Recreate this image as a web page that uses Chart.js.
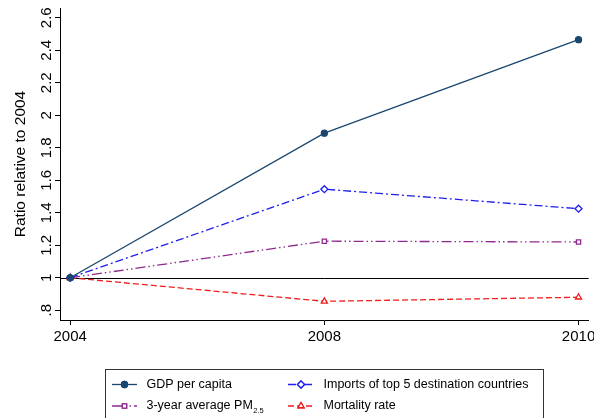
<!DOCTYPE html>
<html>
<head>
<meta charset="utf-8">
<script src="https://cdn.jsdelivr.net/npm/chart.js@4.4.1/dist/chart.umd.min.js"></script>
<style>
  html, body { margin: 0; padding: 0; background: #fff; }
  #wrap { width: 594px; height: 418px; position: relative; overflow: hidden; }
</style>
</head>
<body>
<div id="wrap"><canvas id="c" width="594" height="418"></canvas></div>
<script>
// Years on the horizontal axis (evenly spaced)
const years = ['2004', '2008', '2010'];

// Each series as a ratio to its 2004 level
const gdpPerCapita = [1, 1.89, 2.465];
const importsTop5 = [1, 1.545, 1.425];
const pm25Avg3yr = [1, 1.225, 1.22];
const mortalityRate = [1, 0.855, 0.88];

// Vertical axis ticks
const yTickValues = [0.8, 1, 1.2, 1.4, 1.6, 1.8, 2, 2.2, 2.4, 2.6];
const yTickLabels = ['.8', '1', '1.2', '1.4', '1.6', '1.8', '2', '2.2', '2.4', '2.6'];

const FONT = '"Liberation Sans", Arial, Helvetica, sans-serif';

const toPoints = arr => arr.map((v, i) => ({ x: i, y: v }));

const series = [
  { label: 'GDP per capita', data: gdpPerCapita, color: '#1a476f', dash: [],
    pointStyle: 'circle', radius: 3, filled: true },
  { label: 'Imports of top 5 destination countries', data: importsTop5, color: '#1f1fee', dash: [8, 3, 2, 3],
    pointStyle: 'rectRot', radius: 3.5, filled: false },
  { label: '3-year average PM', sub: '2.5', data: pm25Avg3yr, color: '#8e2a8e', dash: [10, 3, 1.5, 3, 1.5, 3],
    pointStyle: 'rect', radius: 3, filled: false },
  { label: 'Mortality rate', data: mortalityRate, color: '#f21d1d', dash: [6, 3],
    pointStyle: 'triangle', radius: 3.5, filled: false }
];

// Reference line at ratio = 1
const refLinePlugin = {
  id: 'refLine',
  beforeDatasetsDraw(chart) {
    const { ctx, chartArea, scales } = chart;
    const y = Math.round(scales.y.getPixelForValue(1)) + 0.5;
    ctx.save();
    ctx.strokeStyle = '#000';
    ctx.lineWidth = 1;
    ctx.beginPath();
    ctx.moveTo(chartArea.left, y);
    ctx.lineTo(chartArea.right, y);
    ctx.stroke();
    ctx.restore();
  }
};

// Rotated vertical-axis tick labels
const yLabelPlugin = {
  id: 'yLabels',
  afterDraw(chart) {
    const { ctx, scales } = chart;
    ctx.save();
    ctx.fillStyle = '#000';
    ctx.font = '15px ' + FONT;
    ctx.textAlign = 'center';
    ctx.textBaseline = 'alphabetic';
    yTickValues.forEach((v, i) => {
      const y = scales.y.getPixelForValue(v);
      ctx.save();
      ctx.translate(51, y);
      ctx.rotate(-Math.PI / 2);
      ctx.fillText(yTickLabels[i], 0, 0);
      ctx.restore();
    });
    ctx.restore();
  }
};

function drawMarker(ctx, s, x, y) {
  ctx.save();
  ctx.setLineDash([]);
  ctx.lineWidth = 1.3;
  ctx.strokeStyle = s.color;
  ctx.fillStyle = s.filled ? s.color : '#fff';
  Chart.helpers.drawPoint(ctx, { pointStyle: s.pointStyle, radius: s.radius, rotation: 0, borderWidth: 1.3 }, x, y);
  ctx.fill();
  ctx.stroke();
  ctx.restore();
}

// Two-column legend in a box below the plot
const legendPlugin = {
  id: 'boxLegend',
  afterDraw(chart) {
    const { ctx } = chart;
    ctx.save();
    ctx.strokeStyle = '#333';
    ctx.lineWidth = 1;
    ctx.strokeRect(105.5, 369.5, 438, 60);
    const cols = [{ x0: 112, x1: 137, tx: 146.5 }, { x0: 288, x1: 314, tx: 323.5 }];
    const rows = [384.5, 406];
    const order = [[0, 0], [1, 0], [0, 1], [1, 1]]; // [col,row] for each series
    series.forEach((s, i) => {
      const c = cols[order[i][0]];
      const y = rows[order[i][1]];
      ctx.save();
      ctx.strokeStyle = s.color;
      ctx.lineWidth = 1.3;
      ctx.setLineDash(s.dash);
      ctx.beginPath();
      ctx.moveTo(c.x0, y);
      ctx.lineTo(c.x1, y);
      ctx.stroke();
      ctx.restore();
      drawMarker(ctx, s, (c.x0 + c.x1) / 2, y);
      ctx.fillStyle = '#000';
      ctx.font = '12.5px ' + FONT;
      ctx.textAlign = 'left';
      ctx.textBaseline = 'middle';
      ctx.fillText(s.label, c.tx, y);
      if (s.sub) {
        const w = ctx.measureText(s.label).width;
        ctx.font = '7.5px ' + FONT;
        ctx.fillText(s.sub, c.tx + w + 0.5, y + 4.5);
      }
    });
    ctx.restore();
  }
};

new Chart(document.getElementById('c'), {
  type: 'line',
  data: {
    datasets: series.map(s => ({
      label: s.label,
      data: toPoints(s.data),
      borderColor: s.color,
      backgroundColor: s.filled ? s.color : '#fff',
      borderWidth: 1.3,
      borderDash: s.dash,
      pointStyle: s.pointStyle,
      pointRadius: s.radius,
      pointBorderWidth: 1.3,
      pointBorderColor: s.color,
      pointBackgroundColor: s.filled ? s.color : '#fff',
      tension: 0,
      fill: false,
      clip: false
    }))
  },
  options: {
    responsive: false,
    animation: false,
    devicePixelRatio: 1,
    layout: { padding: { left: 0, top: 8, right: 5, bottom: 0 } },
    plugins: { legend: { display: false }, tooltip: { enabled: false } },
    scales: {
      x: {
        type: 'linear',
        min: -0.04,
        max: 2.04,
        afterBuildTicks: s => { s.ticks = years.map((_, i) => ({ value: i })); },
        afterFit: s => { s.height = 98; s.paddingLeft = 0; s.paddingRight = 0; },
        grid: { drawOnChartArea: false, drawTicks: true, tickLength: 5, color: '#000' },
        border: { display: true, color: '#000', width: 1 },
        ticks: {
          color: '#000',
          font: { family: FONT, size: 15 },
          padding: 3,
          maxRotation: 0,
          autoSkip: false,
          callback: v => years[v]
        }
      },
      y: {
        min: 0.74,
        max: 2.66,
        afterBuildTicks: s => { s.ticks = yTickValues.map(v => ({ value: v })); },
        afterFit: s => { s.width = 60; s.paddingTop = 0; s.paddingBottom = 0; },
        grid: { drawOnChartArea: false, drawTicks: true, tickLength: 5, color: '#000' },
        border: { display: true, color: '#000', width: 1 },
        ticks: { display: false },
        title: {
          display: true,
          text: 'Ratio relative to 2004',
          color: '#000',
          font: { family: FONT, size: 15.5 },
          padding: { top: 11, bottom: 0 }
        }
      }
    }
  },
  plugins: [refLinePlugin, yLabelPlugin, legendPlugin]
});
</script>
</body>
</html>
